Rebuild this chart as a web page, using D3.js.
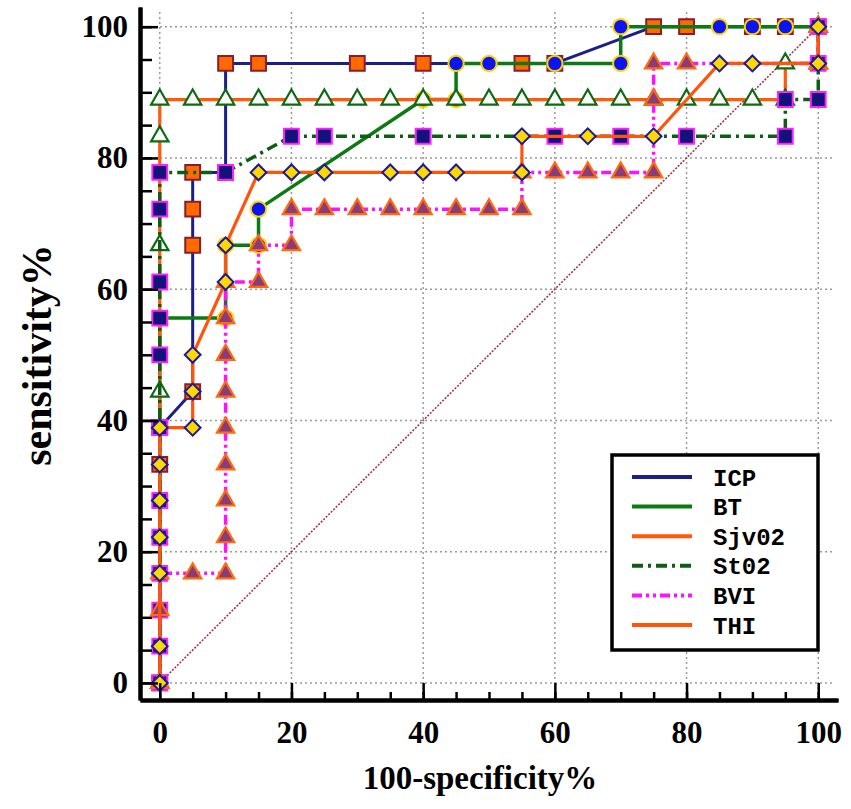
<!DOCTYPE html>
<html>
<head>
<meta charset="utf-8">
<script src="https://cdn.jsdelivr.net/npm/d3@7"></script>
<style>
  body { margin: 0; background: #fff; }
  svg { display: block; }
</style>
</head>
<body>
<svg id="chart" width="851" height="809"></svg>
<script>
// ROC points, x = 100-specificity%, y = sensitivity%
const icpX = [0, 0, 0, 5, 5, 5, 5, 10, 10, 15, 30, 40, 55, 60, 75, 80, 90, 95, 100];
const icpY = [0, 33.3, 38.9, 44.4, 66.7, 72.2, 77.8, 77.8, 94.4, 94.4, 94.4, 94.4, 94.4, 94.4, 100, 100, 100, 100, 100];

const btX = [0, 0, 10, 10, 15, 15, 40, 45, 45, 50, 60, 70, 70, 85, 90, 95, 100];
const btY = [0, 55.6, 55.6, 66.7, 66.7, 72.2, 88.9, 88.9, 94.4, 94.4, 94.4, 94.4, 100, 100, 100, 100, 100];

const sjvX = [0, 0, 0, 0, 0, 5, 10, 15, 20, 25, 30, 35, 40, 45, 50, 55, 60, 65, 70, 75, 80, 85, 90, 95, 95, 100, 100];
const sjvY = [0, 44.4, 66.7, 83.3, 88.9, 88.9, 88.9, 88.9, 88.9, 88.9, 88.9, 88.9, 88.9, 88.9, 88.9, 88.9, 88.9, 88.9, 88.9, 88.9, 88.9, 88.9, 88.9, 88.9, 94.4, 94.4, 100];

const stoX = [0, 0, 0, 0, 0, 0, 0, 0, 0, 0, 0, 0, 10, 20, 25, 40, 60, 70, 80, 95, 95, 100, 100, 100];
const stoY = [0, 5.6, 11.1, 16.7, 22.2, 27.8, 38.9, 50, 55.6, 61.1, 72.2, 77.8, 77.8, 83.3, 83.3, 83.3, 83.3, 83.3, 83.3, 83.3, 88.9, 88.9, 94.4, 100];

const bviX = [0, 0, 0, 5, 10, 10, 10, 10, 10, 10, 10, 10, 10, 15, 15, 20, 20, 25, 30, 35, 40, 45, 50, 55, 55, 60, 65, 70, 75, 75, 75, 80, 100, 100];
const bviY = [0, 11.1, 16.7, 16.7, 16.7, 22.2, 27.8, 33.3, 38.9, 44.4, 50, 55.6, 61.1, 61.1, 66.7, 66.7, 72.2, 72.2, 72.2, 72.2, 72.2, 72.2, 72.2, 72.2, 77.8, 77.8, 77.8, 77.8, 77.8, 88.9, 94.4, 94.4, 94.4, 100];

const thiX = [0, 0, 0, 0, 0, 0, 0, 5, 5, 5, 10, 10, 15, 20, 25, 35, 40, 45, 55, 55, 65, 75, 85, 90, 100, 100];
const thiY = [0, 5.6, 16.7, 22.2, 27.8, 33.3, 38.9, 38.9, 44.4, 50, 61.1, 66.7, 77.8, 77.8, 77.8, 77.8, 77.8, 77.8, 77.8, 83.3, 83.3, 83.3, 94.4, 94.4, 94.4, 100];

const seriesNames = ['ICP', 'BT', 'Sjv02', 'St02', 'BVI', 'THI'];
const majorTicks = [0, 20, 40, 60, 80, 100];
const minorTicks = d3.range(0, 101, 5);
const diagX = [0, 100];
const diagY = [0, 100];

// look of each series
const styles = {
    'ICP':   { line: '#1a1f8c', width: 3,   dash: null,             shape: 'square',   fill: '#ff6a00', stroke: '#8b1c2c' },
    'BT':    { line: '#0c7a12', width: 3.5, dash: null,             shape: 'circle',   fill: '#0a14f0', stroke: '#ffd200' },
    'Sjv02': { line: '#ff5a0a', width: 3.2, dash: null,             shape: 'triangle', fill: '#ffffff', stroke: '#0b6a12' },
    'St02':  { line: '#0d5e14', width: 3.5, dash: '11,5,3,5',       shape: 'square',   fill: '#12127a', stroke: '#ff22ff' },
    'BVI':   { line: '#ff10ff', width: 3.5, dash: '10,4,3,4,3,4',   shape: 'triangle', fill: '#8a3c78', stroke: '#ff6a10' },
    'THI':   { line: '#ff540a', width: 3.2, dash: null,             shape: 'diamond',  fill: '#ffd800', stroke: '#1a1a9a' }
};

const allX = [icpX, btX, sjvX, stoX, bviX, thiX];
const allY = [icpY, btY, sjvY, stoY, bviY, thiY];

const series = seriesNames.map((name, i) => ({
    name: name,
    points: allX[i].map((x, j) => ({ x: x, y: allY[i][j] }))
}));

const svg = d3.select('#chart');

const x = d3.scaleLinear().domain([-3, 103]).range([140, 838]);
const y = d3.scaleLinear().domain([-2.6, 103]).range([700, 7]);

// dotted grid
const grid = svg.append('g');
grid.selectAll('.gx')
    .data(majorTicks)
    .enter()
    .append('line')
    .attr('x1', d => x(d)).attr('x2', d => x(d))
    .attr('y1', y.range()[1] + 5).attr('y2', y.range()[0])
    .attr('stroke', '#9a9a9a')
    .attr('stroke-width', 1.5)
    .attr('stroke-dasharray', '2,3');
grid.selectAll('.gy')
    .data(majorTicks)
    .enter()
    .append('line')
    .attr('x1', x.range()[0]).attr('x2', x.range()[1] - 4)
    .attr('y1', d => y(d)).attr('y2', d => y(d))
    .attr('stroke', '#9a9a9a')
    .attr('stroke-width', 1.5)
    .attr('stroke-dasharray', '2,3');

// chance diagonal
svg.append('line')
    .attr('x1', x(diagX[0])).attr('y1', y(diagY[0]))
    .attr('x2', x(diagX[1])).attr('y2', y(diagY[1]))
    .attr('stroke', '#9b3a44')
    .attr('stroke-width', 1.6)
    .attr('stroke-dasharray', '2,1.5');

// curves and markers, one series after the other
const line = d3.line().x(d => x(d.x)).y(d => y(d.y));
const squareSym = d3.symbol(d3.symbolSquare, 220);
const circleSym = d3.symbol(d3.symbolCircle, 185);
const triSym = d3.symbol(d3.symbolTriangle, 130);
const diamondSym = d3.symbol(d3.symbolSquare, 125);

function symbolFor(shape) {
    if (shape === 'square') return squareSym();
    if (shape === 'circle') return circleSym();
    if (shape === 'triangle') return triSym();
    return diamondSym();
}

series.forEach(s => {
    const st = styles[s.name];
    const g = svg.append('g');
    g.append('path')
        .datum(s.points)
        .attr('d', line)
        .attr('fill', 'none')
        .attr('stroke', st.line)
        .attr('stroke-width', st.width)
        .attr('stroke-dasharray', st.dash)
        .attr('stroke-linejoin', 'round');
    g.selectAll('.mk')
        .data(s.points)
        .enter()
        .append('path')
        .attr('d', symbolFor(st.shape))
        .attr('transform', d => `translate(${x(d.x)},${y(d.y)})` + (st.shape === 'diamond' ? ' rotate(45)' : ''))
        .attr('fill', st.fill)
        .attr('stroke', st.stroke)
        .attr('stroke-width', st.shape === 'triangle' ? 2.2 : 2);
});

// axes, ticks drawn inward
function styleAxis(g) {
    g.selectAll('path.domain').attr('stroke', '#000').attr('stroke-width', 4);
    g.selectAll('.tick line').attr('stroke', '#000').attr('stroke-width', 2.5);
}

svg.append('g')
    .attr('transform', `translate(${x.range()[0]},0)`)
    .call(d3.axisLeft(y).tickValues(minorTicks).tickSize(-12).tickSizeOuter(0).tickFormat(''))
    .call(styleAxis);
svg.append('g')
    .attr('transform', `translate(${x.range()[0]},0)`)
    .call(d3.axisLeft(y).tickValues(majorTicks).tickSize(-18).tickSizeOuter(0).tickPadding(12))
    .call(styleAxis)
    .selectAll('text')
    .style('font-family', '"Liberation Serif", serif')
    .style('font-weight', 'bold')
    .style('font-size', '31px')
    .attr('fill', '#000');

svg.append('g')
    .attr('transform', `translate(0,${y.range()[0]})`)
    .call(d3.axisBottom(x).tickValues(minorTicks).tickSize(-8).tickSizeOuter(0).tickFormat(''))
    .call(styleAxis);
svg.append('g')
    .attr('transform', `translate(0,${y.range()[0]})`)
    .call(d3.axisBottom(x).tickValues(majorTicks).tickSize(-17).tickSizeOuter(0).tickPadding(21))
    .call(styleAxis)
    .selectAll('text')
    .style('font-family', '"Liberation Serif", serif')
    .style('font-weight', 'bold')
    .style('font-size', '31px')
    .attr('fill', '#000');

// axis titles
svg.append('text')
    .attr('x', 480)
    .attr('y', 789)
    .attr('text-anchor', 'middle')
    .style('font-family', '"Liberation Serif", serif')
    .style('font-weight', 'bold')
    .style('font-size', '33px')
    .text('100-specificity%');

svg.append('text')
    .attr('transform', 'translate(51,355) rotate(-90)')
    .attr('text-anchor', 'middle')
    .style('font-family', '"Liberation Serif", serif')
    .style('font-weight', 'bold')
    .style('font-size', '42px')
    .text('sensitivity%');

// legend
const legend = svg.append('g').attr('transform', 'translate(612,455)');
legend.append('rect')
    .attr('width', 206)
    .attr('height', 195)
    .attr('fill', '#fff')
    .attr('stroke', '#000')
    .attr('stroke-width', 3.5);

const rows = legend.selectAll('.row')
    .data(seriesNames)
    .enter()
    .append('g')
    .attr('transform', (d, i) => `translate(0,${22 + i * 29.6})`);
rows.append('line')
    .attr('x1', 20).attr('x2', 80)
    .attr('stroke', d => styles[d].line)
    .attr('stroke-width', 4)
    .attr('stroke-dasharray', d => styles[d].dash);
rows.append('text')
    .attr('x', 101)
    .attr('dy', '0.36em')
    .style('font-family', '"Liberation Mono", monospace')
    .style('font-weight', 'bold')
    .style('font-size', '24px')
    .text(d => d);
</script>
</body>
</html>
